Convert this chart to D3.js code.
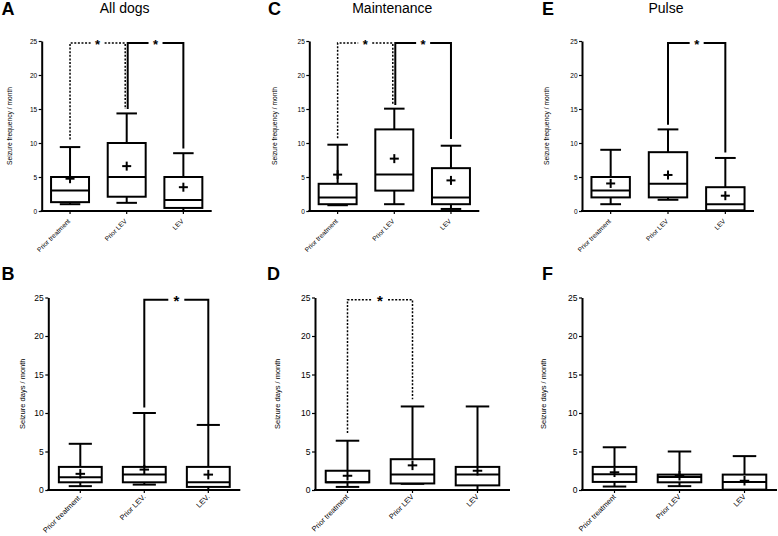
<!DOCTYPE html>
<html>
<head>
<meta charset="utf-8">
<script src="https://cdn.jsdelivr.net/npm/d3@7"></script>
<style>
  html, body { margin: 0; padding: 0; background: #fff; }
  svg { display: block; font-family: Arial, "Liberation Sans", sans-serif; }
</style>
</head>
<body>
<svg id="chart" width="778" height="536"></svg>
<script>
// ---------------- DATA ----------------
const categoriesTop = ["Prior treatment", "Prior LEV", "LEV"];
const categoriesB = ["Prior treatment.", "Prior LEV.", "LEV."];
const categoriesDF = ["Prior treatment", "Prior LEV", "LEV"];
const yTickValues = [0, 5, 10, 15, 20, 25];
const titles = ["All dogs", "Maintenance", "Pulse"];
const panelLetters = ["A", "B", "C", "D", "E", "F"];
const yTitleFreq = "Seizure frequency / month";
const yTitleDays = "Seizure days / month";

// box stats per category: [min, q1, median, q3, max, mean]
const statsA = [[1.0, 1.3, 3.0, 5.0, 9.4, 4.75], [1.2, 2.1, 5.0, 10.0, 14.35, 6.6], [0, 0.45, 1.6, 5.0, 8.5, 3.5]];
const statsC = [[0.85, 1.0, 2.0, 4.0, 9.75, 5.35], [1.0, 3.0, 5.35, 12.0, 15.05, 7.7], [0.3, 1.0, 2.0, 6.3, 9.6, 4.5]];
const statsE = [[1.0, 2.0, 3.0, 5.0, 9.0, 4.05], [1.65, 2.0, 4.0, 8.65, 12.0, 5.3], [0, 0.1, 1.0, 3.5, 7.8, 2.25]];
const statsB = [[0.5, 1.0, 1.65, 3.0, 6.0, 2.1], [0.7, 1.0, 2.0, 3.0, 10.0, 2.65], [0, 0.4, 1.0, 3.0, 8.45, 2.0]];
const statsD = [[0.4, 1.0, 1.0, 2.5, 6.4, 1.85], [0.8, 0.85, 2.0, 4.0, 10.85, 3.2], [0, 0.6, 2.0, 3.0, 10.85, 2.5]];
const statsF = [[0.45, 1.05, 2.05, 3.0, 5.55, 2.3], [0.5, 1.0, 1.7, 2.0, 5.0, 1.85], [0, 0.05, 1.05, 2.0, 4.4, 1.2]];

// significance brackets: [fromIndex, toIndex, legStartFrom, legStartTo]
const bracketLevel = 24.7;
const sigDottedA = [[0, 1, 10.5, 15.0]];
const sigSolidA = [[1, 2, 15.0, 9.2]];
const sigDottedC = [[0, 1, 10.7, 15.6]];
const sigSolidC = [[1, 2, 15.6, 10.6]];
const sigDottedE = [];
const sigSolidE = [[1, 2, 12.7, 8.6]];
const sigDottedB = [];
const sigSolidB = [[1, 2, 10.7, 8.5]];
const sigDottedD = [[0, 1, 7.4, 11.8]];
const sigSolidD = [];
const sigDottedF = [];
const sigSolidF = [];

// ---------------- LAYOUT ----------------
const rowTop = { y0: 211, y1: 41, tickFont: 6.5, catFont: 6.6, yTitleFont: 6.7, plus: 9, labDx: -1, labDy: 9 };
const rowBot = { y0: 490, y1: 297.5, tickFont: 8.5, catFont: 7.4, yTitleFont: 7.5, plus: 9.5, labDx: 0, labDy: 5.5 };

const panels = [
  { letter: panelLetters[0], lx: 1.5, ly: 15, title: titles[0], x0: 41.7, x1: 211.7, row: rowTop, yTitle: yTitleFreq, ytx: 10, cats: categoriesTop, stats: statsA, dotted: sigDottedA, solid: sigSolidA },
  { letter: panelLetters[2], lx: 268, ly: 15, title: titles[1], x0: 309.3, x1: 479.3, row: rowTop, yTitle: yTitleFreq, ytx: 275, cats: categoriesTop, stats: statsC, dotted: sigDottedC, solid: sigSolidC },
  { letter: panelLetters[4], lx: 542, ly: 15, title: titles[2], x0: 582, x1: 754, row: rowTop, yTitle: yTitleFreq, ytx: 547, cats: categoriesTop, stats: statsE, dotted: sigDottedE, solid: sigSolidE },
  { letter: panelLetters[1], lx: 1.5, ly: 280, title: null, x0: 48.3, x1: 240.3, row: rowBot, yTitle: yTitleDays, ytx: 22, cats: categoriesB, stats: statsB, dotted: sigDottedB, solid: sigSolidB },
  { letter: panelLetters[3], lx: 267, ly: 280, title: null, x0: 315, x1: 510, row: rowBot, yTitle: yTitleDays, ytx: 277, cats: categoriesDF, stats: statsD, dotted: sigDottedD, solid: sigSolidD },
  { letter: panelLetters[5], lx: 542, ly: 280, title: null, x0: 582, x1: 777, row: rowBot, yTitle: yTitleDays, ytx: 543, cats: categoriesDF, stats: statsF, dotted: sigDottedF, solid: sigSolidF }
];

const svg = d3.select("#chart");
const SW = 2;

panels.forEach(p => {
  const g = svg.append("g");
  const isTop = p.row === rowTop;
  const y = d3.scaleLinear().domain([0, 25]).range([p.row.y0, p.row.y1]);
  const x = d3.scaleBand().domain(p.cats).range([p.x0, p.x1]).padding(0);
  const bw = x.bandwidth();
  const boxW = bw * 0.67;
  const capW = boxW * 0.54;
  const cx = c => x(c) + bw / 2;

  // panel letter
  g.append("text").attr("x", p.lx).attr("y", p.ly)
    .attr("font-size", 18).attr("font-weight", "bold").text(p.letter);
  // title
  if (p.title) {
    g.append("text").attr("x", (p.x0 + p.x1) / 2 - 2).attr("y", 13)
      .attr("text-anchor", "middle").attr("font-size", 14).text(p.title);
  }
  // y title
  const ymid = (p.row.y0 + p.row.y1) / 2;
  g.append("text").attr("transform", `translate(${p.ytx},${ymid}) rotate(-90)`)
    .attr("text-anchor", "middle").attr("dy", "0.35em")
    .attr("font-size", p.row.yTitleFont).text(p.yTitle);

  // y axis
  const ya = g.append("g").attr("transform", `translate(${p.x0},0)`)
    .call(d3.axisLeft(y).tickValues(yTickValues).tickSize(3).tickSizeOuter(0).tickPadding(1.5));
  ya.select(".domain").attr("stroke", "#000").attr("stroke-width", 2);
  ya.selectAll(".tick line").attr("stroke", "#000").attr("stroke-width", 1.2);
  ya.selectAll(".tick text").attr("font-size", p.row.tickFont).attr("fill", "#000")
    .attr("font-family", "Arial, 'Liberation Sans', sans-serif");

  // x axis
  const xa = g.append("g").attr("transform", `translate(0,${p.row.y0})`)
    .call(d3.axisBottom(x).tickSize(3).tickSizeOuter(0));
  xa.select(".domain").attr("stroke", "#000").attr("stroke-width", 2)
    .attr("d", `M${p.x0 - 1},0H${p.x1}`);
  xa.selectAll(".tick line").attr("stroke", "#000").attr("stroke-width", 1.2);
  xa.selectAll(".tick text")
    .attr("font-size", p.row.catFont).attr("fill", "#000")
    .attr("font-family", "Arial, 'Liberation Sans', sans-serif")
    .attr("text-anchor", "end").attr("x", 0).attr("y", 0).attr("dy", "0.35em")
    .attr("transform", `translate(${p.row.labDx},${p.row.labDy}) rotate(-45)`);

  // boxes
  p.stats.forEach((s, i) => {
    const c = cx(p.cats[i]);
    const [mn, q1, md, q3, mx, mean] = s;
    const bg = g.append("g").attr("stroke", "#000").attr("stroke-width", SW).attr("fill", "none");
    bg.append("line").attr("x1", c).attr("x2", c).attr("y1", y(q3)).attr("y2", y(mx));
    bg.append("line").attr("x1", c).attr("x2", c).attr("y1", y(q1)).attr("y2", y(mn));
    bg.append("line").attr("x1", c - capW / 2).attr("x2", c + capW / 2).attr("y1", y(mx)).attr("y2", y(mx));
    bg.append("line").attr("x1", c - capW / 2).attr("x2", c + capW / 2).attr("y1", y(mn)).attr("y2", y(mn));
    bg.append("rect").attr("x", c - boxW / 2).attr("width", boxW)
      .attr("y", y(q3)).attr("height", y(q1) - y(q3)).attr("fill", "#fff");
    bg.append("line").attr("x1", c - boxW / 2).attr("x2", c + boxW / 2).attr("y1", y(md)).attr("y2", y(md));
    const h = p.row.plus / 2;
    bg.append("line").attr("x1", c - h).attr("x2", c + h).attr("y1", y(mean)).attr("y2", y(mean));
    bg.append("line").attr("x1", c).attr("x2", c).attr("y1", y(mean) - h).attr("y2", y(mean) + h);
  });

  // brackets
  const bracketY = y(bracketLevel);
  const drawBracket = (b, dotted, offA, offB) => {
    const xa1 = cx(p.cats[b[0]]) + offA;
    const xb1 = cx(p.cats[b[1]]) + offB;
    const mid = (xa1 + xb1) / 2;
    const gap = isTop ? 7 : 8;
    const bg = g.append("g").attr("stroke", "#000").attr("fill", "none")
      .attr("stroke-width", dotted ? 1.5 : SW)
      .attr("stroke-dasharray", dotted ? "2,1.6" : null);
    bg.append("path").attr("d", `M${xa1},${y(b[2])}V${bracketY}H${mid - gap}`);
    bg.append("path").attr("d", `M${mid + gap},${bracketY}H${xb1}V${y(b[3])}`);
    g.append("text").attr("x", mid).attr("y", bracketY + (isTop ? 5.5 : 6.5))
      .attr("text-anchor", "middle").attr("font-size", isTop ? 13 : 15)
      .attr("font-weight", "bold").text("*");
  };
  p.dotted.forEach(b => drawBracket(b, true, 0, p.solid.length ? -1.5 : 0));
  p.solid.forEach(b => drawBracket(b, false, p.dotted.length ? 1 : 0, 0));
});
</script>
</body>
</html>
